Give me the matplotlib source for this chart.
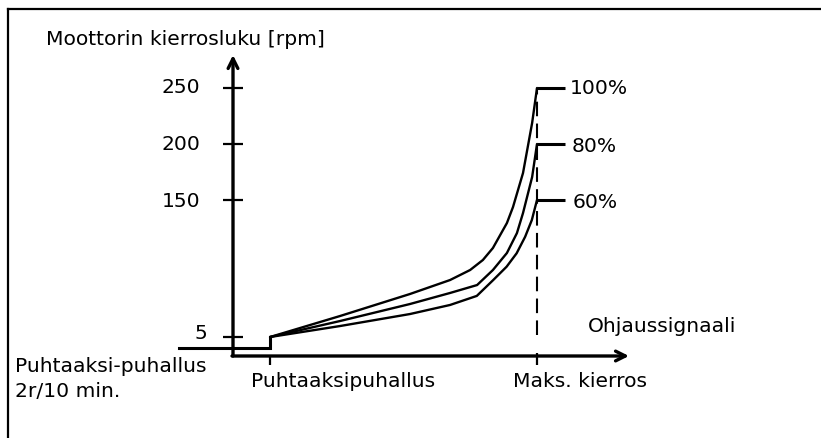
import numpy as np
import matplotlib
matplotlib.use("Agg")
import matplotlib.pyplot as plt
from matplotlib.lines import Line2D

plt.rcParams['font.family'] = ['DejaVu Sans']

# ---- data (control signal in % of max, motor speed in rpm) ----
purge_signal = 12.2          # "Puhtaaksipuhallus" point on the signal axis
max_signal = 100.0           # "Maks. kierros"
purge_rpm = 2                # purge speed 2 r / 10 min
start_rpm = 5

signal_100 = [12.2, 35.2, 58.2, 71.4, 78.0, 82.2, 85.5, 90.1, 92.1, 95.4, 98.4, 100]
rpm_100 = [5, 27.2, 50.5, 65.3, 75.9, 86.5, 99.2, 125.6, 142.5, 174.1, 218.8, 250]

signal_80 = [12.2, 35.2, 58.2, 71.4, 80.3, 85.5, 90.1, 93.4, 95.4, 98.4, 100]
rpm_80 = [5, 21.9, 39.9, 51.6, 60.0, 75.9, 93.9, 115.0, 136.2, 170.5, 200]

signal_60 = [12.2, 35.2, 58.2, 71.4, 80.2, 85.6, 90.0, 93.3, 96.1, 98.3, 100]
rpm_60 = [5, 16.6, 29.3, 38.9, 48.5, 65.3, 79.4, 93.6, 111.1, 128.8, 150]

curve_labels = ["100%", "80%", "60%"]
ytick_values = [5, 150, 200, 250]
ytick_labels = ["5", "150", "200", "250"]

# ---- schematic (broken) rpm scale ----
def fwd(r):
    r = np.asarray(r, dtype=float)
    return np.where(r < 5, r * 3.8,
                    np.where(r < 150, 19 + (r - 5) * 137 / 145,
                             156 + (r - 150) * 1.12))

def inv(p):
    p = np.asarray(p, dtype=float)
    return np.where(p < 19, p / 3.8,
                    np.where(p < 156, 5 + (p - 19) * 145 / 137,
                             150 + (p - 156) / 1.12))

W, H = 821, 438
X0, Y0 = 233, 356            # pixel position of the axes origin
fig = plt.figure(figsize=(W / 100, H / 100), dpi=100)
ax = fig.add_axes([0, 0, 1, 1])
ax.set_yscale('function', functions=(fwd, inv))
px = 3.04
ax.set_xlim(-X0 / px, (W - X0) / px)
ax.set_ylim(float(inv(Y0 - H)), float(inv(Y0)))
ax.axis('off')

def X(p):   # pixel column -> signal units
    return (p - X0) / px

def Y(p):   # pixel row -> rpm units
    return float(inv(Y0 - p))

FS = 14.6
k = 'black'

# border (open on right/bottom)
fig.add_artist(Line2D([8 / W, 8 / W], [0, 1 - 9 / H], color=k, lw=1.6))
fig.add_artist(Line2D([8 / W, 1], [1 - 9 / H, 1 - 9 / H], color=k, lw=1.6))

# axes with arrows
arrow = dict(arrowstyle='->,head_length=0.7,head_width=0.35', lw=2.4, color=k,
             shrinkA=0, shrinkB=0)
ax.annotate('', xy=(0, Y(55)), xytext=(0, 0), arrowprops=arrow)
ax.annotate('', xy=(X(629), 0), xytext=(X(232), 0), arrowprops=arrow)

# y ticks
label_base = {250: 93, 200: 150, 150: 207, 5: 339}
for v, lab in zip(ytick_values, ytick_labels):
    ax.plot([X(223), X(243)], [v, v], color=k, lw=1.6, solid_capstyle='butt')
    right = 207 if v == 5 else 200
    ax.text(X(right), Y(label_base[v]), lab, ha='right', va='baseline', fontsize=FS)

# x ticks
ax.plot([purge_signal, purge_signal], [0, Y(365)], color=k, lw=1.6, solid_capstyle='butt')
ax.plot([max_signal, max_signal], [Y(353), Y(365)], color=k, lw=1.6, solid_capstyle='butt')

# purge step
ax.plot([X(179), purge_signal, purge_signal], [purge_rpm, purge_rpm, start_rpm],
        color=k, lw=2.2, solid_joinstyle='miter')

# curves
for xs, ys in [(signal_100, rpm_100), (signal_80, rpm_80), (signal_60, rpm_60)]:
    ax.plot(xs, ys, color=k, lw=1.7, solid_joinstyle='round', solid_capstyle='round')

# dashed max line
ax.plot([max_signal, max_signal], [Y(335), 250], color=k, lw=1.5,
        linestyle=(0, (7, 3.5)))

# curve end labels
end_label = [(rpm_100[-1], 570, 94), (rpm_80[-1], 572, 152), (rpm_60[-1], 573, 208)]
for (r, lx, lb), lab in zip(end_label, curve_labels):
    ax.plot([max_signal, X(565)], [r, r], color=k, lw=2.2, solid_capstyle='butt')
    ax.text(X(lx), Y(lb), lab, ha='left', va='baseline', fontsize=FS)

# axis labels
ax.text(X(46), Y(45), "Moottorin kierrosluku [rpm]", ha='left', va='baseline', fontsize=FS)
ax.text(X(588), Y(332), "Ohjaussignaali", ha='left', va='baseline', fontsize=FS)
ax.text(X(251), Y(387), "Puhtaaksipuhallus", ha='left', va='baseline', fontsize=FS)
ax.text(X(513), Y(387), "Maks. kierros", ha='left', va='baseline', fontsize=FS)
ax.text(X(15), Y(372), "Puhtaaksi-puhallus", ha='left', va='baseline', fontsize=FS)
ax.text(X(15), Y(397), "2r/10 min.", ha='left', va='baseline', fontsize=FS)

fig.savefig("out.png", dpi=100)
